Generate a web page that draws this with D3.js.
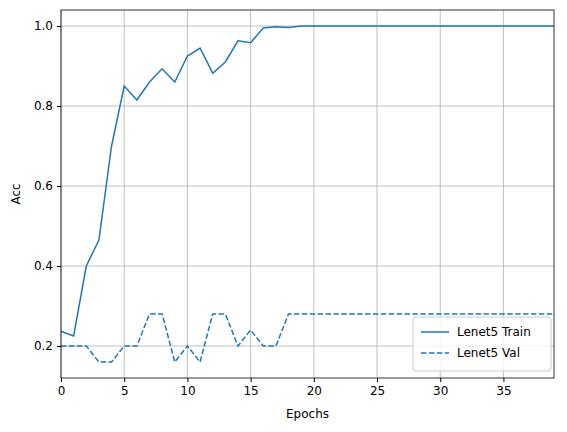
<!DOCTYPE html>
<html><head><meta charset="utf-8">
<script src="https://cdn.jsdelivr.net/npm/d3@7"></script>
<style>body{margin:0;background:#fff}text{font-family:"DejaVu Sans",sans-serif}</style>
</head><body><svg id="c" width="567" height="432"></svg>
<script>
const epochs = d3.range(0, 40);
const trainAcc = [0.237,0.225,0.40,0.465,0.70,0.85,0.815,0.86,0.893,0.86,0.925,0.945,0.882,0.91,0.963,0.958,0.995,0.998,0.996,1,1,1,1,1,1,1,1,1,1,1,1,1,1,1,1,1,1,1,1,1];
const valAcc = [0.2,0.2,0.2,0.16,0.16,0.2,0.2,0.28,0.28,0.16,0.2,0.16,0.28,0.28,0.2,0.24,0.2,0.2,0.28,0.28,0.28,0.28,0.28,0.28,0.28,0.28,0.28,0.28,0.28,0.28,0.28,0.28,0.28,0.28,0.28,0.28,0.28,0.28,0.28,0.28];
const xTicks = [0,5,10,15,20,25,30,35];
const yTicks = [0.2,0.4,0.6,0.8,1.0];
const color = "#1f77b4";
const FS = 12;
const L=61,R=554,T=10,B=378;
const svg=d3.select("#c");
const x=d3.scaleLinear().domain([0,39]).range([L,R]);
const y=d3.scaleLinear().domain([0.12,1.04]).range([B,T]);
const g=svg.append("g");
g.selectAll(".gx").data(xTicks).join("line").attr("x1",d=>x(d)).attr("x2",d=>x(d)).attr("y1",T).attr("y2",B).attr("stroke","#b0b0b0").attr("stroke-width",0.8);
g.selectAll(".gy").data(yTicks).join("line").attr("y1",d=>y(d)).attr("y2",d=>y(d)).attr("x1",L).attr("x2",R).attr("stroke","#b0b0b0").attr("stroke-width",0.8);
const line=d3.line().x((d,i)=>x(epochs[i])).y(d=>y(d));
svg.append("path").datum(trainAcc).attr("d",line).attr("fill","none").attr("stroke",color).attr("stroke-width",1.5);
svg.append("path").datum(valAcc).attr("d",line).attr("fill","none").attr("stroke",color).attr("stroke-width",1.5).attr("stroke-dasharray","5.5,2.4");
svg.append("g").attr("transform",`translate(0,${B})`).call(d3.axisBottom(x).tickValues(xTicks).tickSize(4).tickPadding(4)).call(a=>{a.select(".domain").remove();a.selectAll("text").attr("font-size",FS).attr("font-family","DejaVu Sans")});
svg.append("g").attr("transform",`translate(${L},0)`).call(d3.axisLeft(y).tickValues(yTicks).tickFormat(d3.format(".1f")).tickSize(4).tickPadding(4)).call(a=>{a.select(".domain").remove();a.selectAll("text").attr("font-size",FS).attr("font-family","DejaVu Sans")});
svg.append("rect").attr("x",L).attr("y",T).attr("width",R-L).attr("height",B-T).attr("fill","none").attr("stroke","#000").attr("stroke-width",0.8);
svg.append("text").attr("x",(L+R)/2).attr("y",418).attr("text-anchor","middle").attr("font-size",FS).text("Epochs");
svg.append("text").attr("transform",`translate(20,${(T+B)/2}) rotate(-90)`).attr("text-anchor","middle").attr("font-size",FS).text("Acc");
const lg=svg.append("g").attr("transform","translate(413,317)");
lg.append("rect").attr("width",138).attr("height",54).attr("rx",3).attr("fill","#fff").attr("fill-opacity",0.8).attr("stroke","#ccc");
[["Lenet5 Train",null],["Lenet5 Val","5.5,2.4"]].forEach((e,i)=>{
 lg.append("line").attr("x1",8).attr("x2",36).attr("y1",15+i*21).attr("y2",15+i*21).attr("stroke",color).attr("stroke-width",1.5).attr("stroke-dasharray",e[1]);
 lg.append("text").attr("x",44).attr("y",19+i*21).attr("font-size",FS).text(e[0]);
});
</script></body></html>
